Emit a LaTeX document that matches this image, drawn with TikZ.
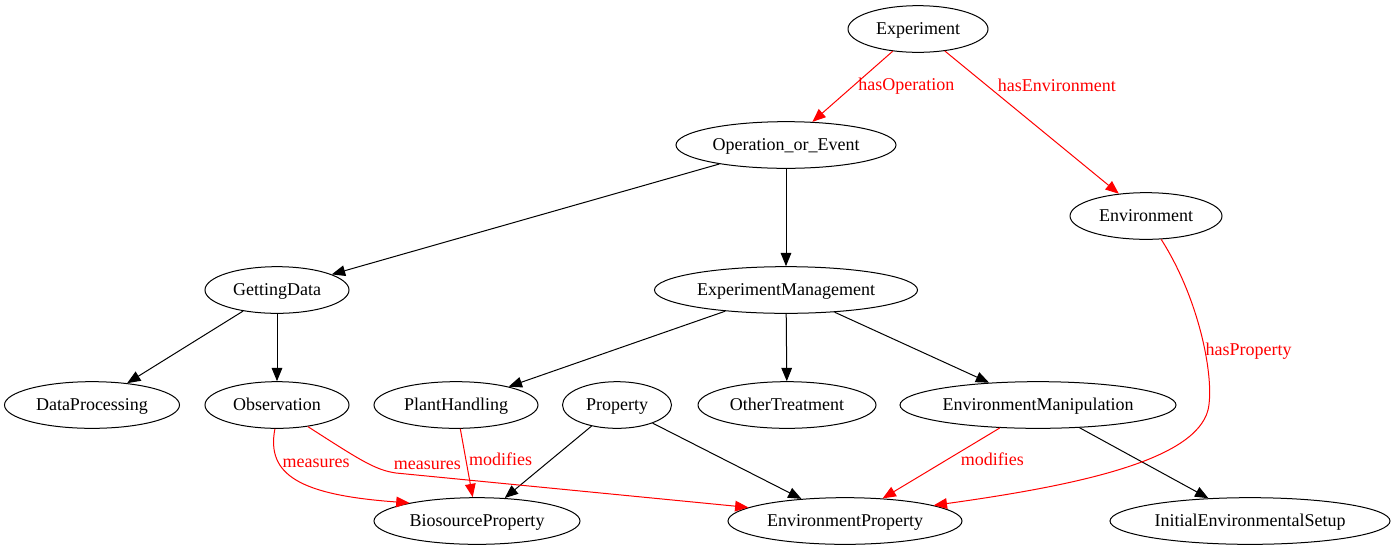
\documentclass[tikz,border=0pt]{standalone}
\usepackage{fontspec}
\setmainfont{Liberation Serif}
\usetikzlibrary{arrows.meta, shapes.geometric}

\begin{document}
\begin{tikzpicture}[
    x=0.75pt, y=-0.75pt,
    font=\fontsize{13.5}{16}\selectfont,
    concept/.style={
        ellipse,
        draw=black,                % Plain black outline
        line width=0.75pt,
        inner sep=0pt,
        text height=9.5pt,
        text depth=2pt,
        minimum height=35pt,
        minimum width=#1*0.75pt    % Width given in pixels
    },
    link/.style={
        -{Triangle[length=10pt, width=8pt]},
        line width=0.75pt,
        draw=black                 % Subclass arrows in black
    },
    relation/.style={
        link,
        draw=red                   % Property arrows in red
    },
    relation_label/.style={
        anchor=west,
        inner sep=2pt,
        text=red
    }
]

    % Fix the canvas to the reference size
    \useasboundingbox (0,0) rectangle (1395,551);

    % --- 1. Concepts ---
    \node[concept=140] (experiment) at (918,29) {Experiment};
    \node[concept=220] (opevent) at (786,145) {Operation\_or\_Event};
    \node[concept=152] (environment) at (1146,216) {Environment};
    \node[concept=144] (gettingdata) at (277,290) {GettingData};
    \node[concept=263] (expmgmt) at (786,290) {ExperimentManagement};
    \node[concept=175] (dataproc) at (92,405) {DataProcessing};
    \node[concept=144] (observation) at (277,405) {Observation};
    \node[concept=164] (planthandling) at (456,405) {PlantHandling};
    \node[concept=109] (property) at (617,405) {Property};
    \node[concept=178] (othertreat) at (787,405) {OtherTreatment};
    \node[concept=276] (envmanip) at (1038,405) {EnvironmentManipulation};
    \node[concept=206] (bioprop) at (477,521) {BiosourceProperty};
    \node[concept=234] (envprop) at (845,521) {EnvironmentProperty};
    \node[concept=280] (initsetup) at (1250,521) {InitialEnvironmentalSetup};

    % --- 2. Subclass links (black) ---
    \draw[link] (opevent) -- (gettingdata);
    \draw[link] (opevent) -- (expmgmt);
    \draw[link] (gettingdata) -- (dataproc);
    \draw[link] (gettingdata) -- (observation);
    \draw[link] (expmgmt) -- (planthandling);
    \draw[link] (expmgmt) -- (othertreat);
    \draw[link] (expmgmt) -- (envmanip);
    \draw[link] (property) -- (bioprop);
    \draw[link] (property) -- (envprop);
    \draw[link] (envmanip) -- (initsetup);

    % --- 3. Relations (red) ---
    \draw[relation] (experiment) -- node[relation_label, pos=.5, xshift=2pt] {hasOperation} (opevent);
    \draw[relation] (experiment) -- node[relation_label, pos=.24, xshift=6pt] {hasEnvironment} (environment);

    % Curved relation round the right side
    \draw[relation] (environment.-57)
        .. controls (1200,300) and (1215,380) .. node[relation_label, pos=.58, xshift=-2pt] {hasProperty} (1208,410)
        .. controls (1195,460) and (1080,485) .. (envprop.10);

    \draw[relation] (observation.265)
        .. controls (266,475) and (300,495) .. node[relation_label, pos=.3] {measures} (bioprop.165);
    \draw[relation] (observation.-35)
        .. controls (360,460) and (375,470) .. (396,473)
        node[relation_label, anchor=south west, inner sep=1pt, xshift=-3pt, yshift=1pt] {measures}
        -- (envprop.172);

    \draw[relation] (planthandling) -- node[relation_label, pos=.45] {modifies} (bioprop);
    \draw[relation] (envmanip) -- node[relation_label, pos=.45, xshift=8pt] {modifies} (envprop);

\end{tikzpicture}
\end{document}
